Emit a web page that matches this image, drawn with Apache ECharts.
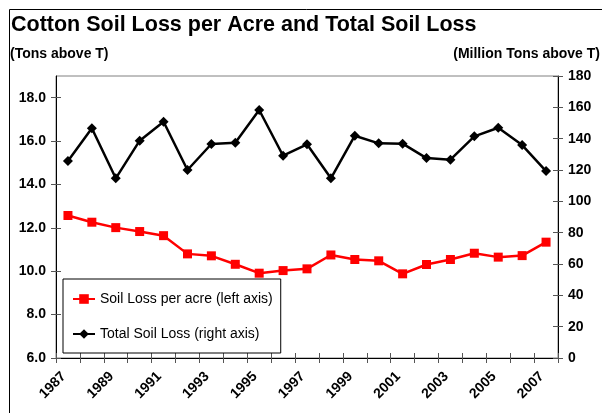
<!DOCTYPE html>
<html>
<head>
<meta charset="utf-8">
<script src="https://cdn.jsdelivr.net/npm/echarts@6/dist/echarts.min.js"></script>
<style>
  html, body { margin: 0; padding: 0; background: #fff; }
  #chart { width: 602px; height: 413px; }
</style>
</head>
<body>
<div id="chart"></div>
<script>
// Years on the category axis
const years = ['1987','1988','1989','1990','1991','1992','1993','1994','1995','1996','1997',
               '1998','1999','2000','2001','2002','2003','2004','2005','2006','2007'];

// Cotton soil loss per acre, tons above T (left axis)
const lossPerAcre = [12.57, 12.26, 12.01, 11.83, 11.64, 10.80, 10.71, 10.32, 9.91, 10.03, 10.11,
                     10.75, 10.54, 10.48, 9.88, 10.31, 10.54, 10.83, 10.65, 10.72, 11.34];

// Total cotton soil loss, million tons above T (right axis)
const totalLoss = [125.7, 146.6, 114.7, 138.7, 150.8, 120.0, 136.6, 137.4, 158.3, 129.1, 136.4,
                   114.7, 141.9, 137.0, 136.8, 127.6, 126.6, 141.5, 147.0, 135.9, 119.3];

// Tick values
const leftTicks = [6, 8, 10, 12, 14, 16, 18];
const rightTicks = [0, 20, 40, 60, 80, 100, 120, 140, 160, 180];

const FONT = "'Liberation Sans', Arial, sans-serif";
const axisLineStyle = { color: '#000', width: 1 };
const tickStyle = { color: '#555', width: 1 };

const chart = echarts.init(document.getElementById('chart'), null, { renderer: 'canvas' });

chart.setOption({
  backgroundColor: '#fff',
  animation: false,
  title: {
    text: 'Cotton Soil Loss per Acre and Total Soil Loss',
    left: 11, top: 14, padding: 0,
    textStyle: { fontFamily: FONT, fontSize: 21.5, fontWeight: 'bold', color: '#000' }
  },
  graphic: [
    { type: 'rect', left: 7, top: 7, shape: { width: 800, height: 600 },
      style: { fill: 'none', stroke: '#000', lineWidth: 1 }, silent: true },
    { type: 'text', left: 10, top: 47,
      style: { text: '(Tons above T)', font: 'bold 14px ' + FONT, fill: '#000' } },
    { type: 'text', right: 2, top: 47,
      style: { text: '(Million Tons above T)', font: 'bold 14px ' + FONT, fill: '#000' } }
  ],
  legend: {
    orient: 'vertical',
    left: 63, top: 279,
    padding: [13, 8, 12, 9],
    itemGap: 21,
    itemWidth: 22, itemHeight: 12,
    borderColor: '#000', borderWidth: 1,
    backgroundColor: '#fff',
    textStyle: { fontFamily: FONT, fontSize: 14, color: '#000' },
    data: ['Soil Loss per acre (left axis)', 'Total Soil Loss (right axis)']
  },
  grid: {
    left: 56, right: 44, top: 76, bottom: 55,
    show: true, borderColor: '#808080', borderWidth: 1, backgroundColor: 'transparent'
  },
  xAxis: [
    {
      type: 'category', data: years, boundaryGap: true,
      axisLine: { lineStyle: axisLineStyle },
      axisTick: { show: true, interval: 0, length: 5, lineStyle: tickStyle },
      axisLabel: {
        interval: 1, rotate: 45, margin: 12, padding: [0, 6, 0, 0],
        fontFamily: FONT, fontSize: 14, fontWeight: 'bold', color: '#000'
      },
      splitLine: { show: false }
    },
    {
      // inner half of the crossing ticks
      type: 'category', data: years, boundaryGap: true, position: 'bottom',
      axisLine: { show: false },
      axisTick: { show: true, inside: true, interval: 0, length: 5, lineStyle: tickStyle },
      axisLabel: { show: false },
      splitLine: { show: false }
    }
  ],
  yAxis: [
    {
      type: 'value', position: 'left', min: 6, max: 19,
      axisLine: { show: true, lineStyle: axisLineStyle },
      axisTick: { show: true, length: 5, lineStyle: tickStyle, customValues: leftTicks },
      axisLabel: {
        customValues: leftTicks, margin: 10,
        formatter: v => v.toFixed(1),
        fontFamily: FONT, fontSize: 14, fontWeight: 'bold', color: '#000'
      },
      splitLine: { show: false }
    },
    {
      type: 'value', position: 'right', min: 0, max: 180, interval: 20,
      axisLine: { show: true, lineStyle: axisLineStyle },
      axisTick: { show: true, length: 5, lineStyle: tickStyle, customValues: rightTicks },
      axisLabel: {
        customValues: rightTicks, margin: 10,
        fontFamily: FONT, fontSize: 14, fontWeight: 'bold', color: '#000'
      },
      splitLine: { show: false }
    },
    {
      type: 'value', position: 'left', min: 6, max: 19,
      axisLine: { show: false },
      axisTick: { show: true, inside: true, length: 5, lineStyle: tickStyle, customValues: leftTicks },
      axisLabel: { show: false },
      splitLine: { show: false }
    },
    {
      type: 'value', position: 'right', min: 0, max: 180, interval: 20,
      axisLine: { show: false },
      axisTick: { show: true, inside: true, length: 5, lineStyle: tickStyle, customValues: rightTicks },
      axisLabel: { show: false },
      splitLine: { show: false }
    }
  ],
  series: [
    {
      name: 'Soil Loss per acre (left axis)',
      type: 'line', xAxisIndex: 0, yAxisIndex: 0,
      data: lossPerAcre,
      symbol: 'rect', symbolSize: 9,
      lineStyle: { color: '#FF0000', width: 2.5 },
      itemStyle: { color: '#FF0000' },
      z: 3
    },
    {
      name: 'Total Soil Loss (right axis)',
      type: 'line', xAxisIndex: 0, yAxisIndex: 1,
      data: totalLoss,
      symbol: 'diamond', symbolSize: 10,
      lineStyle: { color: '#000', width: 2.5 },
      itemStyle: { color: '#000' },
      z: 3
    }
  ]
});
</script>
</body>
</html>
